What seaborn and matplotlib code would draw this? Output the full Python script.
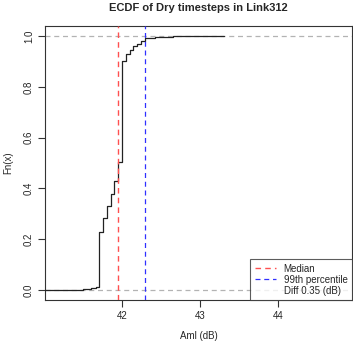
import matplotlib
matplotlib.use("Agg")
import matplotlib.pyplot as plt
import seaborn as sns
import pandas as pd
from matplotlib.lines import Line2D

# step positions (Aml, dB) and ECDF level after each step
step_x = [41.02, 41.51, 41.61, 41.67, 41.71, 41.765, 41.816, 41.86, 41.90, 41.95,
          42.00, 42.05, 42.10, 42.15, 42.20, 42.25, 42.30, 42.43, 42.66, 43.30]
step_y = [0.0, 0.004, 0.008, 0.013, 0.227, 0.282, 0.330, 0.377, 0.429, 0.505,
          0.901, 0.930, 0.945, 0.960, 0.971, 0.980, 0.992, 0.996, 0.999, 1.0]

median_val = 41.95
p99_val = 42.30
diff_val = 0.35

x_ticks = [42, 43, 44]
y_ticks = [0.0, 0.2, 0.4, 0.6, 0.8, 1.0]

sns.set_style("white")
plt.rcParams['font.family'] = ['Liberation Sans', 'DejaVu Sans']

fig = plt.figure(figsize=(3.53, 3.46), dpi=100)
ax = fig.add_axes([45 / 353, 46 / 346, 307 / 353, 274 / 346])

df = pd.DataFrame({'x': step_x, 'y': step_y})

# reference lines at 0 and 1
for h in (0, 1):
    ax.axhline(h, color='#b3b3b3', linestyle=(0, (4, 3)), linewidth=0.9, zorder=1)

sns.lineplot(data=df, x='x', y='y', drawstyle='steps-post', color='#222222',
             linewidth=0.9, ax=ax, zorder=3)

ax.axvline(median_val, color='#ff5050', linestyle=(0, (4, 3)), linewidth=1.0, zorder=4)
ax.axvline(p99_val, color='#3030ff', linestyle=(0, (4, 3)), linewidth=0.9, zorder=4)

ax.set_xlim(41.02, 44.94)
ax.set_ylim(-0.04, 1.04)
ax.set_xticks(x_ticks)
ax.set_xticklabels([str(t) for t in x_ticks], fontsize=7)
ax.set_yticks(y_ticks)
ax.set_yticklabels([f"{t:.1f}" for t in y_ticks], fontsize=7, rotation=90, va='center')
ax.tick_params(axis='both', direction='out', length=5, width=0.8, color='#333333',
               pad=3, left=True, bottom=True)

for s in ax.spines.values():
    s.set_color('#333333')
    s.set_linewidth(0.8)

ax.set_xlabel('Aml (dB)', fontsize=7, labelpad=7)
ax.set_ylabel('Fn(x)', fontsize=7, labelpad=8)
ax.set_title('ECDF of Dry timesteps in Link312', fontsize=8, fontweight='bold', pad=11)

handles = [
    Line2D([], [], color='#ff5050', linestyle=(0, (4, 3)), linewidth=1.0),
    Line2D([], [], color='#3030ff', linestyle=(0, (4, 3)), linewidth=0.9),
    Line2D([], [], color='none'),
]
labels = ['Median', '99th percentile', f'Diff {diff_val} (dB)']
leg = ax.legend(handles, labels, loc='lower right', borderaxespad=0, fontsize=7,
                frameon=True, fancybox=False, handlelength=2.2, handletextpad=0.8,
                labelspacing=0.1, borderpad=0.45)
leg.get_frame().set_edgecolor('#333333')
leg.get_frame().set_linewidth(0.8)

fig.savefig('out.png', dpi=100)
